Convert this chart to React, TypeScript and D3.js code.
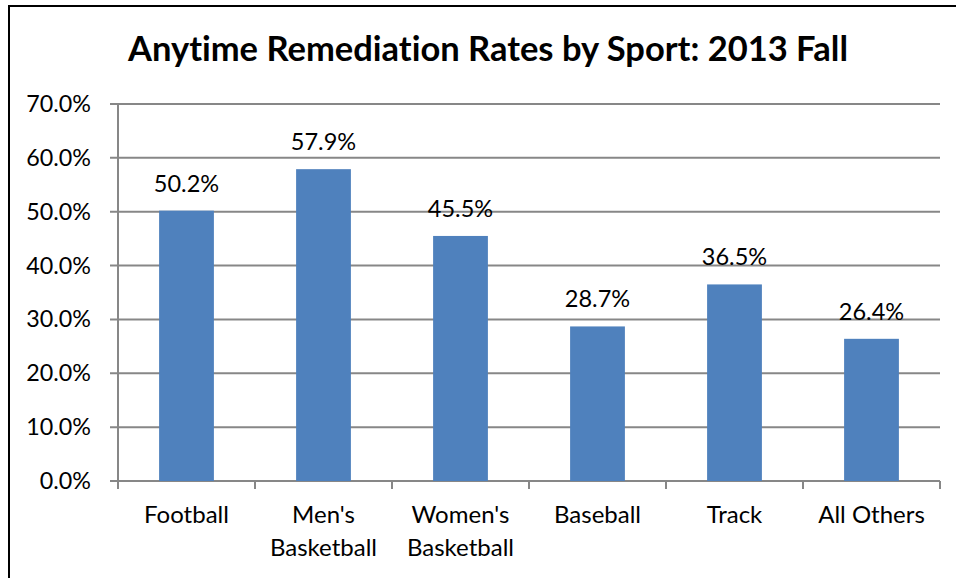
import React from "react";
import * as d3 from "d3";

const categories: string[][] = [
  ["Football"],
  ["Men's", "Basketball"],
  ["Women's", "Basketball"],
  ["Baseball"],
  ["Track"],
  ["All Others"],
];
const values: number[] = [0.502, 0.579, 0.455, 0.287, 0.365, 0.264];
const yTicks: number[] = [0, 0.1, 0.2, 0.3, 0.4, 0.5, 0.6, 0.7];
const title = "Anytime Remediation Rates by Sport: 2013 Fall";

const FONT = "Lato, 'Open Sans', sans-serif";

export default function App() {
  const W = 956;
  const H = 578;
  const left = 118;
  const right = 940;
  const top = 104;
  const bottom = 481;

  const keys = categories.map((c) => c.join(" "));
  const x = d3.scaleBand<string>().domain(keys).range([left, right]).paddingInner(0.6).paddingOuter(0.3);
  const y = d3.scaleLinear().domain([0, 0.7]).range([bottom, top]);
  const step = x.step();
  const fmt = d3.format(".1%");
  const grid = "#878787";

  return (
    <svg
      width={W}
      height={H}
      style={{
        position: "absolute",
        left: 0,
        top: 0,
        display: "block",
        background: "#fff",
        fontVariantLigatures: "none",
      }}
      fontFamily={FONT}
    >
      <rect x={0} y={0} width={W} height={H} fill="#fff" />
      <rect x={9} y={6} width={1000} height={1000} fill="none" stroke="#000" strokeWidth={2} />
      <text
        x={488}
        y={61}
        textAnchor="middle"
        fontSize={34.5}
        fontWeight={700}
        fill="#000"
        style={{ fontVariantLigatures: "none", fontFeatureSettings: "'liga' 0, 'clig' 0" }}
      >
        {title}
      </text>
      {yTicks.map((t) => (
        <g key={t}>
          <line x1={left - 8} x2={right} y1={y(t)} y2={y(t)} stroke={grid} strokeWidth={2} />
          <text x={91} y={y(t) + 8} textAnchor="end" fontSize={23.3} fill="#000">
            {fmt(t)}
          </text>
        </g>
      ))}
      <line x1={left} x2={left} y1={top} y2={bottom} stroke={grid} strokeWidth={2} />
      {d3.range(keys.length + 1).map((i) => (
        <line
          key={i}
          x1={left + i * step}
          x2={left + i * step}
          y1={bottom}
          y2={bottom + 8}
          stroke={grid}
          strokeWidth={2}
        />
      ))}
      {values.map((v, i) => (
        <g key={keys[i]}>
          <rect
            x={x(keys[i])}
            y={y(v)}
            width={x.bandwidth()}
            height={bottom - y(v)}
            fill="#4F81BD"
          />
          <text
            x={(x(keys[i]) as number) + x.bandwidth() / 2}
            y={y(v) - 19}
            textAnchor="middle"
            fontSize={23.5}
            fill="#000"
          >
            {fmt(v)}
          </text>
        </g>
      ))}
      {categories.map((lines, i) => (
        <text
          key={keys[i]}
          x={(x(keys[i]) as number) + x.bandwidth() / 2}
          y={523}
          textAnchor="middle"
          fontSize={24}
          fill="#000"
        >
          {lines.map((l, j) => (
            <tspan key={j} x={(x(keys[i]) as number) + x.bandwidth() / 2} y={523 + j * 33}>
              {l}
            </tspan>
          ))}
        </text>
      ))}
    </svg>
  );
}
